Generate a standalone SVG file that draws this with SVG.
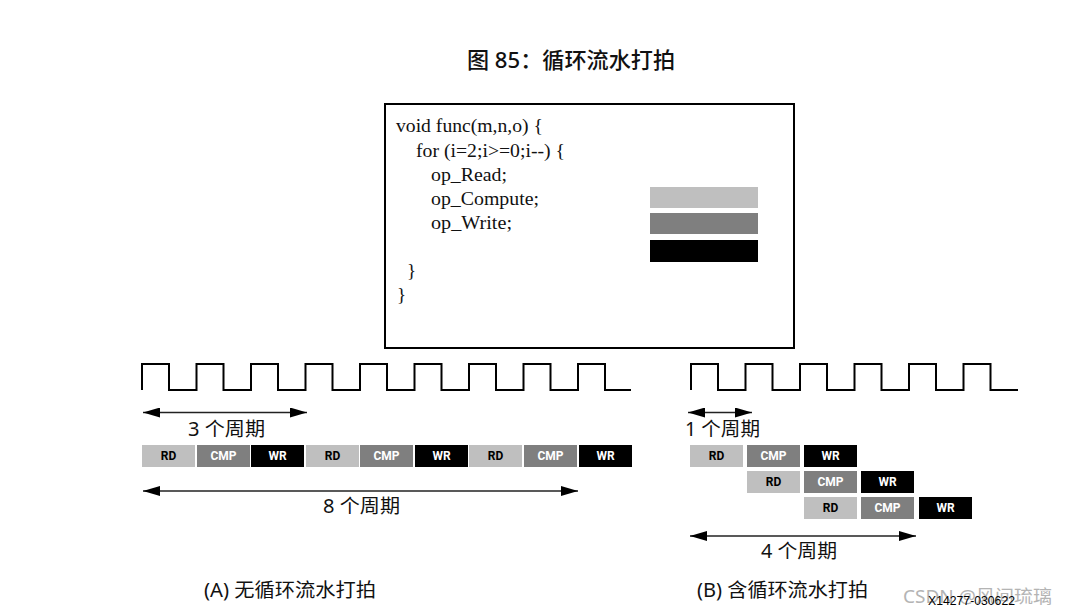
<svg xmlns="http://www.w3.org/2000/svg" width="1076" height="615" viewBox="0 0 1076 615">
<style>
.cjk{font-family:"Noto Sans","Noto Sans CJK SC",sans-serif;fill:#111}
.code{font-family:"Liberation Serif",serif;font-size:19px;fill:#111}
.clk{fill:none;stroke:#000;stroke-width:2}
.arr{stroke:#222;stroke-width:1.6;marker-start:url(#ah);marker-end:url(#ah)}
.rd{fill:#bfbfbf}.cmp{fill:#7f7f7f}.wr{fill:#000}
.bl{font-family:Roboto,"Liberation Sans",sans-serif;font-weight:bold;font-size:12px;text-anchor:middle}
.bl.d{fill:#000}.bl.w{fill:#fff}
</style>
<defs>
<marker id="ah" viewBox="0 0 17 10" refX="17" refY="5" markerWidth="17" markerHeight="10" markerUnits="userSpaceOnUse" orient="auto-start-reverse"><path d="M0,0 L17,5 L0,10 z" fill="#000"/></marker>
<g id="bRD"><rect class="rd" width="53" height="22"/><text class="bl d" x="26.5" y="15">RD</text></g>
<g id="bCMP"><rect class="cmp" width="53" height="22"/><text class="bl w" x="26.5" y="15">CMP</text></g>
<g id="bWR"><rect class="wr" width="53" height="22"/><text class="bl w" x="26.5" y="15">WR</text></g>
</defs>
<rect width="1076" height="615" fill="#fff"/>

<g id="title"><text class="cjk" x="467" y="68" font-size="22" font-weight="500" textLength="208" lengthAdjust="spacingAndGlyphs">图 85：循环流水打拍</text></g>

<g id="code-box">
<rect x="385" y="104" width="409" height="244" fill="#fff" stroke="#000" stroke-width="2"/>
<text class="code" x="396" y="132" textLength="147" lengthAdjust="spacingAndGlyphs">void func(m,n,o) {</text>
<text class="code" x="416" y="157" textLength="149" lengthAdjust="spacingAndGlyphs">for (i=2;i&gt;=0;i--) {</text>
<text class="code" x="431" y="181" textLength="76" lengthAdjust="spacingAndGlyphs">op_Read;</text>
<text class="code" x="431" y="205" textLength="108" lengthAdjust="spacingAndGlyphs">op_Compute;</text>
<text class="code" x="431" y="229" textLength="81" lengthAdjust="spacingAndGlyphs">op_Write;</text>
<text class="code" x="407" y="277">}</text>
<text class="code" x="397" y="301">}</text>
<rect class="rd" x="650" y="187" width="108" height="21"/>
<rect class="cmp" x="650" y="213" width="108" height="21"/>
<rect class="wr" x="650" y="240" width="108" height="22"/>
</g>

<g id="clock-a"><path class="clk" d="M142,390 V364 H169 V390 H196.5 V364 H223.5 V390 H251 V364 H278 V390 H305.5 V364 H332.5 V390 H360 V364 H387 V390 H414.5 V364 H441.5 V390 H469 V364 H496 V390 H523.5 V364 H550.5 V390 H578 V364 H605 V390 H631"/></g>
<g id="clock-b"><path class="clk" d="M691,390 V364 H718 V390 H745.5 V364 H772.5 V390 H800 V364 H827 V390 H854.5 V364 H881.5 V390 H909 V364 H936 V390 H963.5 V364 H990.5 V390 H1018"/></g>

<g id="connectors">
<line class="arr" x1="143" y1="412.5" x2="307" y2="412.5"/>
<line class="arr" x1="143" y1="491" x2="578" y2="491"/>
<line class="arr" x1="688" y1="412.5" x2="752" y2="412.5"/>
<line class="arr" x1="690" y1="536" x2="916" y2="536"/>
</g>

<g id="labels">
<text class="cjk" x="188" y="436" font-size="19" textLength="77" lengthAdjust="spacingAndGlyphs">3 个周期</text>
<text class="cjk" x="323" y="513" font-size="19" textLength="77" lengthAdjust="spacingAndGlyphs">8 个周期</text>
<text class="cjk" x="685" y="436" font-size="19" textLength="75" lengthAdjust="spacingAndGlyphs">1 个周期</text>
<text class="cjk" x="761" y="558" font-size="19" textLength="76" lengthAdjust="spacingAndGlyphs">4 个周期</text>
</g>

<g id="pipeline-a">
<use href="#bRD" x="142" y="445"/><use href="#bCMP" x="197" y="445"/><use href="#bWR" x="251" y="445"/>
<use href="#bRD" x="306" y="445"/><use href="#bCMP" x="360" y="445"/><use href="#bWR" x="415" y="445"/>
<use href="#bRD" x="469" y="445"/><use href="#bCMP" x="524" y="445"/><use href="#bWR" x="579" y="445"/>
</g>

<g id="pipeline-b">
<use href="#bRD" x="690" y="445"/><use href="#bCMP" x="747" y="445"/><use href="#bWR" x="804" y="445"/>
<use href="#bRD" x="747" y="471"/><use href="#bCMP" x="804" y="471"/><use href="#bWR" x="861" y="471"/>
<use href="#bRD" x="804" y="497"/><use href="#bCMP" x="861" y="497"/><use href="#bWR" x="919" y="497"/>
</g>

<g id="captions">
<text class="cjk" x="204" y="597" font-size="19" textLength="172" lengthAdjust="spacingAndGlyphs">(A) 无循环流水打拍</text>
<text class="cjk" x="697" y="597" font-size="19" textLength="171" lengthAdjust="spacingAndGlyphs">(B) 含循环流水打拍</text>
</g>

<g id="watermark">
<text x="903" y="603" font-family="'Noto Sans','Noto Sans CJK SC',sans-serif" font-size="18" fill="#b4b4b4" textLength="149" lengthAdjust="spacingAndGlyphs">CSDN @风间琉璃</text>
<text x="928" y="605" font-family="'Liberation Sans',sans-serif" font-size="12" fill="#000" textLength="87" lengthAdjust="spacingAndGlyphs">X14277-030622</text>
</g>
</svg>
